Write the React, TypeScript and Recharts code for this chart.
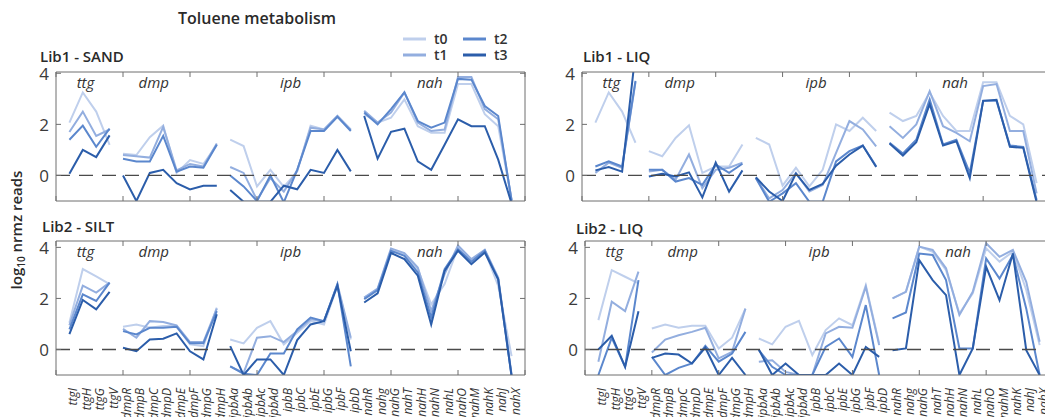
import React from 'react';
import { LineChart, Line, XAxis, YAxis, ReferenceLine } from 'recharts';

const genes = [
  'ttgI', 'ttgH', 'ttgG', 'ttgV',
  'dmpR', 'dmpB', 'dmpC', 'dmpD', 'dmpE', 'dmpF', 'dmpG', 'dmpH',
  'ipbAa', 'ipbAb', 'ipbAc', 'ipbAd', 'ipbB', 'ipbC', 'ipbE', 'ipbG', 'ipbF', 'ipbD',
  'nahR', 'nahg', 'nahG', 'nahT', 'nahH', 'nahN', 'nahL', 'nahO', 'nahM', 'nahK', 'nahJ', 'nahX',
];
const groups = ['ttg', 'dmp', 'ipb', 'nah'];
const groupLabelPos = [2.2, 7.3, 17.5, 27.9];
const groupEnds = [4, 12, 22];
const timepoints = ['t0', 't1', 't2', 't3'];
const yTicks = [0, 2, 4];

// Lib1 - SAND
const sandT0 = [2.07, 3.25, 2.5, 1.2, 0.85, 0.8, 1.5, 1.95, 0.1, 0.6, 0.45, 1.2, 1.4, 1.15, -0.43, 0.22, -0.45, 0.15, 1.95, 1.8, 2.33, 1.8, 2.4, 2.07, 2.26, 2.98, 1.93, 1.67, 1.67, 3.58, 3.58, 2.4, 1.93, -0.96];
const sandT1 = [1.7, 2.5, 1.55, 1.8, 0.8, 0.75, 0.7, 1.9, 0.2, 0.45, 0.35, 1.25, 0.33, 0.1, -0.96, -0.1, -0.63, 0.2, 1.87, 1.8, 2.33, 1.78, 2.53, 2.07, 2.46, 3.25, 2.07, 1.74, 1.8, 3.85, 3.85, 2.6, 2.2, -0.96];
const sandT2 = [1.4, 1.95, 1.12, 1.83, 0.65, 0.55, 0.55, 1.55, 0.15, 0.35, 0.3, 1.2, 0, -0.43, -1.0, 0, -1.05, 0.22, 1.74, 1.74, 2.3, 1.74, 2.46, 2.0, 2.6, 3.25, 2.13, 1.87, 2.07, 3.78, 3.75, 2.72, 2.33, -1.0];
const sandT3 = [0.07, 1.0, 0.72, 1.57, 0.0, -1.0, 0.1, 0.22, -0.3, -0.55, -0.4, -0.4, -0.57, -1.03, -1.03, -1.03, -0.4, -0.54, 0.22, 0.1, 1.0, 0.16, 2.33, 0.66, 1.71, 1.83, 0.55, 0.22, 1.2, 2.2, 1.93, 1.93, 0.62, -1.1];

// Lib1 - LIQ
const liq1T0 = [2.07, 3.25, 2.5, 1.28, 0.95, 0.75, 1.47, 1.96, 0.1, 0.35, 0.35, 1.21, 1.47, 1.21, -0.4, 0.3, -0.43, 0.22, 2.0, 1.74, 2.26, 1.74, 2.46, 2.13, 2.33, 3.25, 2.33, 1.74, 1.74, 3.65, 3.65, 2.33, 2.0, -0.3];
const liq1T1 = [0.1, 0.5, 0.3, 3.65, 0.15, 0.22, -0.17, 0.82, -0.5, 0.22, 0.3, 0.5, -0.1, -0.9, -0.57, 0.1, -0.63, -0.37, 0.88, 2.13, 1.8, 1.14, 1.93, 1.47, 2.0, 3.3, 1.93, 1.67, 1.34, 3.5, 3.58, 1.74, 1.74, -0.7];
const liq1T2 = [0.35, 0.55, 0.35, 3.7, 0.22, 0.22, -0.24, -0.1, -0.37, 0.42, 0.1, 0.46, -0.1, -1.03, -0.7, -0.3, -1.03, -1.03, 0.55, 0.95, 1.17, 0.36, 1.28, 0.86, 1.4, 2.98, 1.21, 1.4, 0.1, 2.92, 2.92, 1.17, 1.12, -0.96];
const liq1T3 = [0.2, 0.33, 0.15, 4.8, -0.04, 0.07, -0.04, 0.12, -0.86, 0.5, -0.63, 0.2, -0.07, -0.63, -1.0, 0.07, -0.57, -0.33, 0.38, 0.82, 1.17, 0.33, 1.25, 0.78, 1.3, 2.79, 1.17, 1.34, -0.1, 2.92, 2.96, 1.12, 1.08, -1.05];

// Lib2 - SILT
const siltT0 = [1.05, 3.15, 2.86, 2.56, 0.89, 0.98, 0.85, 0.92, 0.92, 0.2, 0.13, 1.64, 0.39, 0.24, 0.85, 1.11, 0.2, 0.66, 1.11, 0.98, 2.5, 0.39, 2.03, 2.36, 3.91, 3.74, 3.15, 1.77, 2.56, 4.0, 3.48, 3.87, 2.49, -0.26];
const siltT1 = [0.95, 2.5, 2.23, 2.62, 0.81, 0.46, 1.11, 1.08, 0.94, 0.29, 0.29, 1.6, -0.66, -0.92, 0.46, 0.52, 0.29, 0.72, 1.18, 1.11, 2.56, 0.46, 2.03, 2.39, 3.96, 3.78, 3.21, 1.51, 2.95, 4.07, 3.54, 3.91, 2.82, -0.98];
const siltT2 = [0.79, 2.16, 1.9, 2.62, 0.72, 0.59, 0.85, 0.85, 0.89, 0.24, 0.24, 1.5, -0.66, -0.95, -1.0, -0.16, -0.16, 0.79, 1.25, 1.11, 2.56, -0.66, 1.97, 2.33, 3.87, 3.67, 3.02, 1.25, 3.15, 3.93, 3.44, 3.87, 2.75, -1.05];
const siltT3 = [0.6, 1.94, 1.57, 2.26, 0.07, -0.07, 0.39, 0.42, 0.63, -0.07, -0.39, 1.38, 0.13, -1.0, -0.39, -0.39, -1.0, 0.37, 0.98, 1.11, 2.5, -0.07, 1.84, 2.2, 3.78, 3.54, 2.89, 0.98, 3.08, 3.87, 3.34, 3.8, 2.75, -1.05];

// Lib2 - LIQ
const liq2T0 = [1.15, 3.11, 2.85, 2.59, 0.82, 0.98, 0.85, 0.93, 0.93, 0.04, 0.46, 1.6, 0.43, 0.2, 0.89, 1.12, -0.22, 0.76, 1.22, 0.95, 2.52, 0.24, 2.0, 2.26, 4.03, 3.83, 3.11, 1.41, 2.2, 3.96, 3.44, 3.83, 2.33, 0.17];
const liq2T1 = [-0.48, 1.87, 1.5, 3.05, -0.12, 0.39, 0.56, 0.69, 0.85, -0.35, -0.09, 1.6, -0.48, -0.42, -0.88, -1.0, -1.0, 0.63, 0.89, 0.85, 2.46, 0.17, 2.0, 2.26, 4.03, 3.9, 3.18, 1.35, 2.26, 4.16, 3.63, 3.9, 2.65, 0.3];
const liq2T2 = [-1.0, 0.46, -0.68, 2.72, -0.29, -1.0, -0.72, -0.55, 0.14, -0.48, -0.16, 0.69, -0.03, -0.68, -1.0, -1.0, -1.0, 0.1, 0.43, -0.29, 1.74, -1.0, 1.22, 1.45, 3.76, 3.7, 2.72, 0.04, 0.04, 3.57, 2.78, 3.7, 1.6, -1.0];
const liq2T3 = [0, 0.54, -0.68, 1.5, -0.33, -0.16, -0.2, -0.55, 0.07, -1.0, -0.33, -1.0, 0.0, -1.0, -0.55, -1.0, -1.0, -1.0, -0.55, -1.0, 0.1, -0.29, -0.03, 0.04, 3.5, 2.72, 2.13, -1.0, 0.04, 3.24, 1.93, 3.76, -0.03, -1.0];

const colors = ['#bfcfec', '#93aedf', '#5b87cd', '#2b5daa'];
const AXIS = '#6e6e6e';
const FONT = '"Open Sans", "Noto Sans", sans-serif';
const TOP_PAD = 12;

const buildRows = (series: number[][]) => {
  const rows: any[] = [];
  genes.forEach((g, i) => {
    const row: any = { x: i + 1, gene: g };
    series.forEach((s, k) => { row[timepoints[k]] = s[i]; });
    rows.push(row);
    if (groupEnds.includes(i + 1)) {
      const gap: any = { x: i + 1.5 };
      timepoints.forEach((t) => { gap[t] = null; });
      rows.push(gap);
    }
  });
  return rows;
};

const xTicks = Array.from({ length: 36 }, (_, i) => i);

interface PanelProps {
  left: number; top: number; right: number; bottom: number;
  yMax: number; series: number[][]; showLabels: boolean;
}

const Panel: React.FC<PanelProps> = ({ left, top, right, bottom, yMax, series, showLabels }) => {
  const plotW = right - left;
  const plotH = bottom - top;
  const B = showLabels ? 50 : 12;
  const rows = buildRows(series);

  const leftTick = (p: any) => (
    <g>
      <line x1={p.x} x2={p.x + 5} y1={p.y} y2={p.y} stroke={AXIS} />
      <text x={p.x - 7} y={p.y} textAnchor="end" dominantBaseline="central" fontSize={17} fill="#3a3a3a" fontFamily={FONT}>
        {p.payload.value}
      </text>
    </g>
  );
  const rightTick = (p: any) => <line x1={p.x - 5} x2={p.x} y1={p.y} y2={p.y} stroke={AXIS} />;
  const topTick = (p: any) => (p.payload.value % 5 === 0 ? <line x1={p.x} x2={p.x} y1={p.y} y2={p.y + 5} stroke={AXIS} /> : <g />);
  const bottomTick = (p: any) => {
    const v = p.payload.value;
    const label = showLabels && v >= 1 && v <= genes.length ? genes[v - 1] : null;
    return (
      <g>
        {v % 5 === 0 && <line x1={p.x} x2={p.x} y1={p.y - 5} y2={p.y} stroke={AXIS} />}
        {label && (
          <text
            x={p.x + 3.5}
            y={p.y + 13}
            textAnchor="end"
            dominantBaseline="central"
            transform={`rotate(-90, ${p.x + 3.5}, ${p.y + 13})`}
            fontSize={12}
            fontStyle="italic"
            fill="#333"
            fontFamily={FONT}
          >
            {label}
          </text>
        )}
      </g>
    );
  };

  return (
    <div style={{ position: 'absolute', left: left - 56, top: top - TOP_PAD - 1 }}>
      <LineChart width={plotW + 61} height={plotH + TOP_PAD + 2 + B} data={rows} margin={{ top: TOP_PAD, right: 4, left: 0, bottom: B }}>
        <XAxis xAxisId="b" dataKey="x" type="number" domain={[0, 35]} ticks={xTicks} interval={0} height={1}
          tickSize={0} tickMargin={0} tickLine={false} axisLine={{ stroke: AXIS }} tick={bottomTick} />
        <XAxis xAxisId="t" orientation="top" dataKey="x" type="number" domain={[0, 35]} ticks={xTicks} interval={0} height={1}
          tickSize={0} tickMargin={0} tickLine={false} axisLine={{ stroke: AXIS }} tick={topTick} />
        <YAxis yAxisId="l" type="number" domain={[-1, yMax]} allowDataOverflow ticks={yTicks} interval={0} width={56}
          tickSize={0} tickMargin={0} tickLine={false} axisLine={{ stroke: AXIS }} tick={leftTick} />
        <YAxis yAxisId="r" orientation="right" type="number" domain={[-1, yMax]} allowDataOverflow ticks={yTicks} interval={0} width={1}
          tickSize={0} tickMargin={0} tickLine={false} axisLine={{ stroke: AXIS }} tick={rightTick} />
        {timepoints.map((t, k) => (
          <Line key={t} xAxisId="b" yAxisId="l" type="linear" dataKey={t} stroke={colors[k]} strokeWidth={2}
            dot={false} activeDot={false} isAnimationActive={false} />
        ))}
        <ReferenceLine xAxisId="b" yAxisId="l" y={0} stroke="#4a4a4a" strokeWidth={1.3} strokeDasharray="14 9" />
      </LineChart>
    </div>
  );
};

const panels = [
  { title: 'Lib1 - SAND', tx: 40, ty: 62, left: 56, top: 72, right: 525, bottom: 201, yMax: 4.05, series: [sandT0, sandT1, sandT2, sandT3], showLabels: false },
  { title: 'Lib1 - LIQ', tx: 583, ty: 62, left: 582, top: 72, right: 1050, bottom: 201, yMax: 4.05, series: [liq1T0, liq1T1, liq1T2, liq1T3], showLabels: false },
  { title: 'Lib2 - SILT', tx: 42, ty: 232, left: 56, top: 241, right: 525, bottom: 375, yMax: 4.25, series: [siltT0, siltT1, siltT2, siltT3], showLabels: true },
  { title: 'Lib2 - LIQ', tx: 576, ty: 234, left: 585, top: 241, right: 1053, bottom: 375, yMax: 4.25, series: [liq2T0, liq2T1, liq2T2, liq2T3], showLabels: true },
];

export default function App() {
  return (
    <div style={{ position: 'absolute', left: 0, top: 0, width: 1045, height: 417, overflow: 'hidden', background: '#fff' }}>
      {panels.map((p) => (
        <Panel key={p.title} {...p} />
      ))}
      <svg width={1045} height={417} style={{ position: 'absolute', left: 0, top: 0, pointerEvents: 'none' }} fontFamily={FONT}>
        <text x={257} y={24} textAnchor="middle" fontSize={16} fontWeight={600} fill="#2a2a2a">Toluene metabolism</text>
        {panels.map((p) => (
          <g key={p.title}>
            <text x={p.tx} y={p.ty} fontSize={15} fontWeight={600} fill="#2a2a2a">{p.title}</text>
            {groups.map((g, i) => (
              <text key={g} x={p.left + (groupLabelPos[i] / 35) * (p.right - p.left)} y={p.top + 16}
                textAnchor="middle" fontSize={15} fontStyle="italic" fill="#333">{g}</text>
            ))}
          </g>
        ))}
        {timepoints.map((t, k) => {
          const lx = k < 2 ? 403 : 463;
          const ly = k % 2 === 0 ? 39 : 55;
          return (
            <g key={t}>
              <line x1={lx} x2={lx + 23} y1={ly} y2={ly} stroke={colors[k]} strokeWidth={3} />
              <text x={lx + 31} y={ly + 5} fontSize={14} fontWeight={600} fill="#333">{t}</text>
            </g>
          );
        })}
        <text transform="translate(22, 230) rotate(-90)" textAnchor="middle" fontSize={15} fontWeight={600} fill="#2a2a2a">
          log<tspan fontSize={10} dy={3}>10</tspan><tspan dy={-3}> nrmz reads</tspan>
        </text>
      </svg>
    </div>
  );
}
